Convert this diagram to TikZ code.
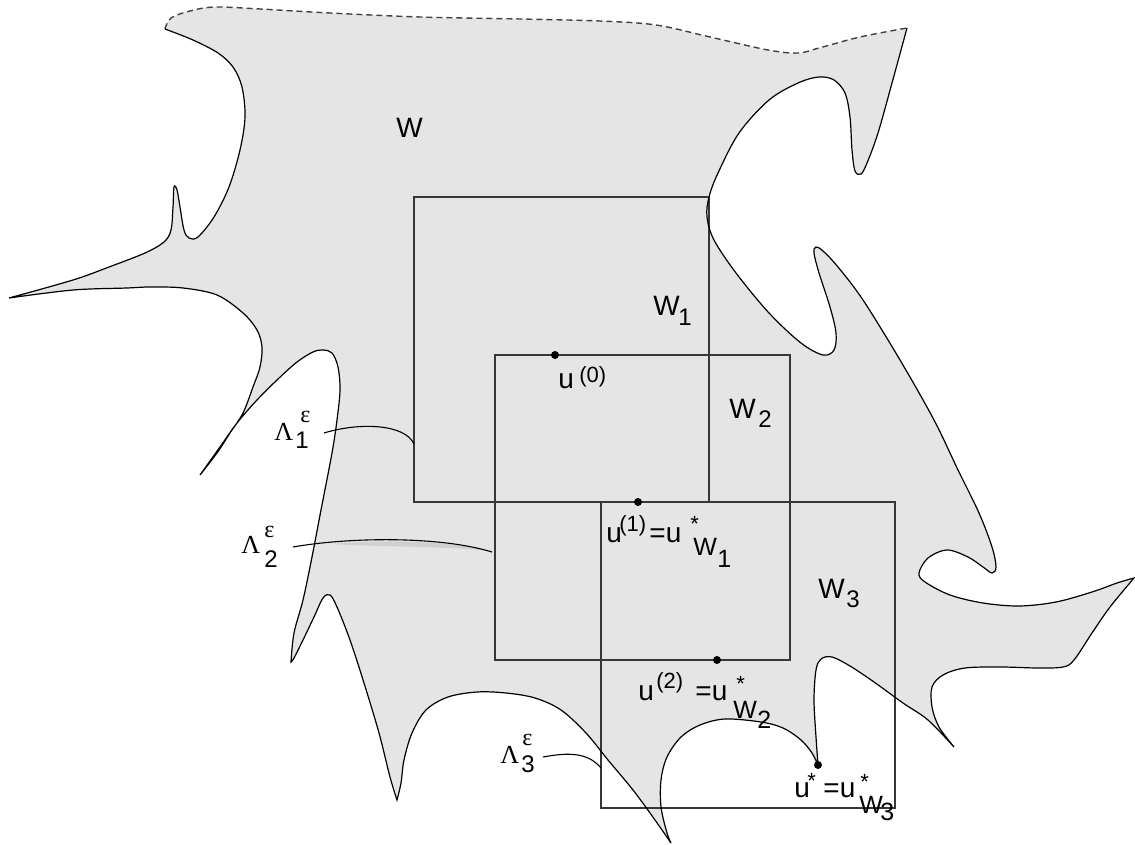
\documentclass[tikz,border=0pt]{standalone}
\usepackage{fontspec}
\setmainfont{Liberation Sans}
\newfontfamily\serifgr{Liberation Serif}
\newcommand\lblpc[4]{\rlap{\kern\dimexpr#1pt/2\relax\raisebox{\dimexpr#2pt/2\relax}{\fontsize{#3}{#3}\selectfont #4}}}
\definecolor{shapefill}{RGB}{229,229,229}
\definecolor{boxc}{RGB}{55,55,55}
\definecolor{bandc}{RGB}{208,208,208}
\def\segA{plot[smooth,tension=.55] coordinates {(165,29) (171,18) (190,11) (215,7) (260,9) (330,13) (420,17) (520,19) (600,21) (656,25) (710,37) (768,50) (798,53) (819,48) (860,37) (907,28)}}
\def\segB{-- plot[smooth,tension=.55] coordinates {(907,28) (892,83) (878,133) (867,163) (861,174) (855,171) (852,150) (850,117) (845,93) (834,80) (819,77) (798,83) (769,100) (739,133) (718,173) (709,197) (707,217) (714,240) (736,273) (769,313) (801,343) (823,355) (834,350) (836,333) (830,307) (819,273) (814,253) (816,247) (823,251) (838,267) (863,300) (900,360) (934,420) (958,470) (979,513) (992,547) (996,567) (992,573) (983,567) (968,557) (947,550) (928,558) (919,573) (925,582) (950,595) (983,603) (1019,606) (1056,602) (1092,592) (1117,583) (1134,578)}}
\def\segC{-- plot[smooth,tension=.55] coordinates {(1134,578) (1110,607) (1092,633) (1074,660) (1063,667) (1038,668) (1001,667) (965,668) (943,675) (932,687) (932,707) (939,727) (954,747)}}
\def\segD{-- plot[smooth,tension=.55] coordinates {(954,747) (928,720) (903,703) (874,682) (850,666) (832,657) (821,659) (816,670) (814,700) (816,737) (818,765)}}
\def\segE{-- plot[smooth,tension=.55] coordinates {(818,765) (812,753) (801,740) (783,728) (761,722) (725,719) (700,725) (681,737) (667,757) (661,780) (661,807) (667,833) (671,843)}}
\def\segF{-- plot[smooth,tension=.55] coordinates {(671,843) (655,820) (633,790) (608,760) (586,733) (561,710) (535,698) (506,693) (477,692) (448,697) (426,710) (412,733) (404,760) (401,783) (397,800)}}
\def\segG{-- plot[smooth,tension=.55] coordinates {(397,800) (390,777) (379,733) (364,683) (350,640) (337,607) (330,595) (323,598) (314,617) (303,640) (294,658) (291,662)}}
\def\segH{-- plot[smooth,tension=.55] coordinates {(291,662) (294,633) (303,600) (312,557) (321,510) (332,453) (337,420) (340,390) (338,367) (332,353) (323,350) (313,352) (297,362) (277,380) (257,400) (237,423) (220,447) (200,475)}}
\def\segI{-- plot[smooth,tension=.55] coordinates {(200,475) (217,453) (230,433) (243,413) (253,387) (260,367) (262,347) (257,330) (243,313) (217,295) (183,288) (150,287) (127,288) (73,290) (9,298)}}
\def\segJ{-- plot[smooth,tension=.55] coordinates {(9,298) (73,280) (109,267) (145,253) (164,242) (171,230) (173,207) (174,187) (177,190) (180,207) (184,230) (189,238) (198,237) (214,217) (229,187) (240,150) (245,117) (242,87) (233,67) (218,53) (193,40) (165,29)}}
\tikzset{
  bound/.style={draw=black, line width=0.6pt},
  topdash/.style={draw=black!75, line width=0.7pt, dash pattern=on 3pt off 2pt},
  boxline/.style={draw=boxc, line width=0.85pt},
  leader/.style={draw=black, line width=0.55pt},
  lab/.style={inner sep=0pt, anchor=base west, font=\fontsize{14}{16}\selectfont},
  dot/.style={circle, fill=black, inner sep=0pt, minimum size=4pt},
}
\begin{document}
\begin{tikzpicture}[x=0.5pt,y=-0.5pt]
\useasboundingbox (0,0) rectangle (1135,845);
% shaded region W
\fill[shapefill] \segA \segB \segC \segD \segE \segF \segG \segH \segI \segJ -- cycle;
% grey band under the Lambda_2 leader
\fill[bandc] (330,544) .. controls (380,540) and (445,540) .. (490,551) .. controls (445,546) and (380,547) .. (330,544) -- cycle;
% boxes W1, W2, W3
\draw[boxline] (414,197) rectangle (709,502);
\draw[boxline] (495,355) rectangle (790,660);
\draw[boxline] (601,502) rectangle (895,808);
% boundary
\draw[topdash] \segA;
\draw[bound] (907,28) \segB \segC \segD \segE \segF \segG \segH \segI \segJ;
% leaders
\coordinate (a1) at (324,433); \coordinate (b1) at (414,444);
\coordinate (a2) at (293,547); \coordinate (b2) at (492,552);
\coordinate (a3) at (543,757); \coordinate (b3) at (601,768);
\draw[leader] (a1) .. controls (360,422) and (405,424) .. (b1);
\draw[leader] (a2) .. controls (350,537) and (440,536) .. (b2);
\draw[leader] (a3) .. controls (565,753) and (587,751) .. (b3);
% points
\node[dot] (d0) at (555,355) {};
\node[dot] (d1) at (638,502) {};
\node[dot] (d2) at (717,660) {};
\node[dot] (ds) at (818,765) {};
% labels
\node[lab] (lW) at (396,138) {W};
\node[lab] (lW1) at (652,315) {\lblpc{0}{0}{14}{W}\lblpc{25}{-10}{12}{1}};
\node[lab] (lW2) at (728,418) {\lblpc{0}{0}{14}{W}\lblpc{29}{-9}{12}{2}};
\node[lab] (lW3) at (817,598) {\lblpc{0}{0}{14}{W}\lblpc{28}{-9}{12}{3}};
\node[lab] (lu0) at (557,388) {\lblpc{0}{0}{14}{u}\lblpc{21}{6}{11}{(0)}};
\node[lab] (lu1) at (605,542) {\lblpc{0}{0}{14}{u}\lblpc{13}{11}{11}{(1)}\lblpc{43}{0}{14}{=u}\lblpc{84}{11}{11}{*}\lblpc{87}{-13}{12.5}{W}\lblpc{111}{-25}{12.5}{1}};
\node[lab] (lu2) at (637,700) {\lblpc{0}{0}{14}{u}\lblpc{18}{12}{11}{(2)}\lblpc{57}{0}{14}{=u}\lblpc{98}{9}{11}{*}\lblpc{95}{-18}{12.5}{W}\lblpc{119}{-28}{12.5}{2}};
\node[lab] (lus) at (793,797) {\lblpc{0}{0}{14}{u}\lblpc{13}{9}{11}{*}\lblpc{29}{0}{14}{=u}\lblpc{66}{8}{11}{*}\lblpc{65}{-16}{12.5}{W}\lblpc{86}{-23}{12.5}{3}};
\node[lab] (lL1) at (273,440) {\lblpc{0}{0}{13}{\serifgr Λ}\lblpc{26}{18}{12}{\serifgr ε}\lblpc{21}{-8}{12}{1}};
\node[lab] (lL2) at (240,553) {\lblpc{0}{0}{13}{\serifgr Λ}\lblpc{23}{16}{12}{\serifgr ε}\lblpc{23}{-14}{12}{2}};
\node[lab] (lL3) at (499,763) {\lblpc{0}{0}{13}{\serifgr Λ}\lblpc{22}{18}{12}{\serifgr ε}\lblpc{21}{-9}{12}{3}};
\end{tikzpicture}
\end{document}
